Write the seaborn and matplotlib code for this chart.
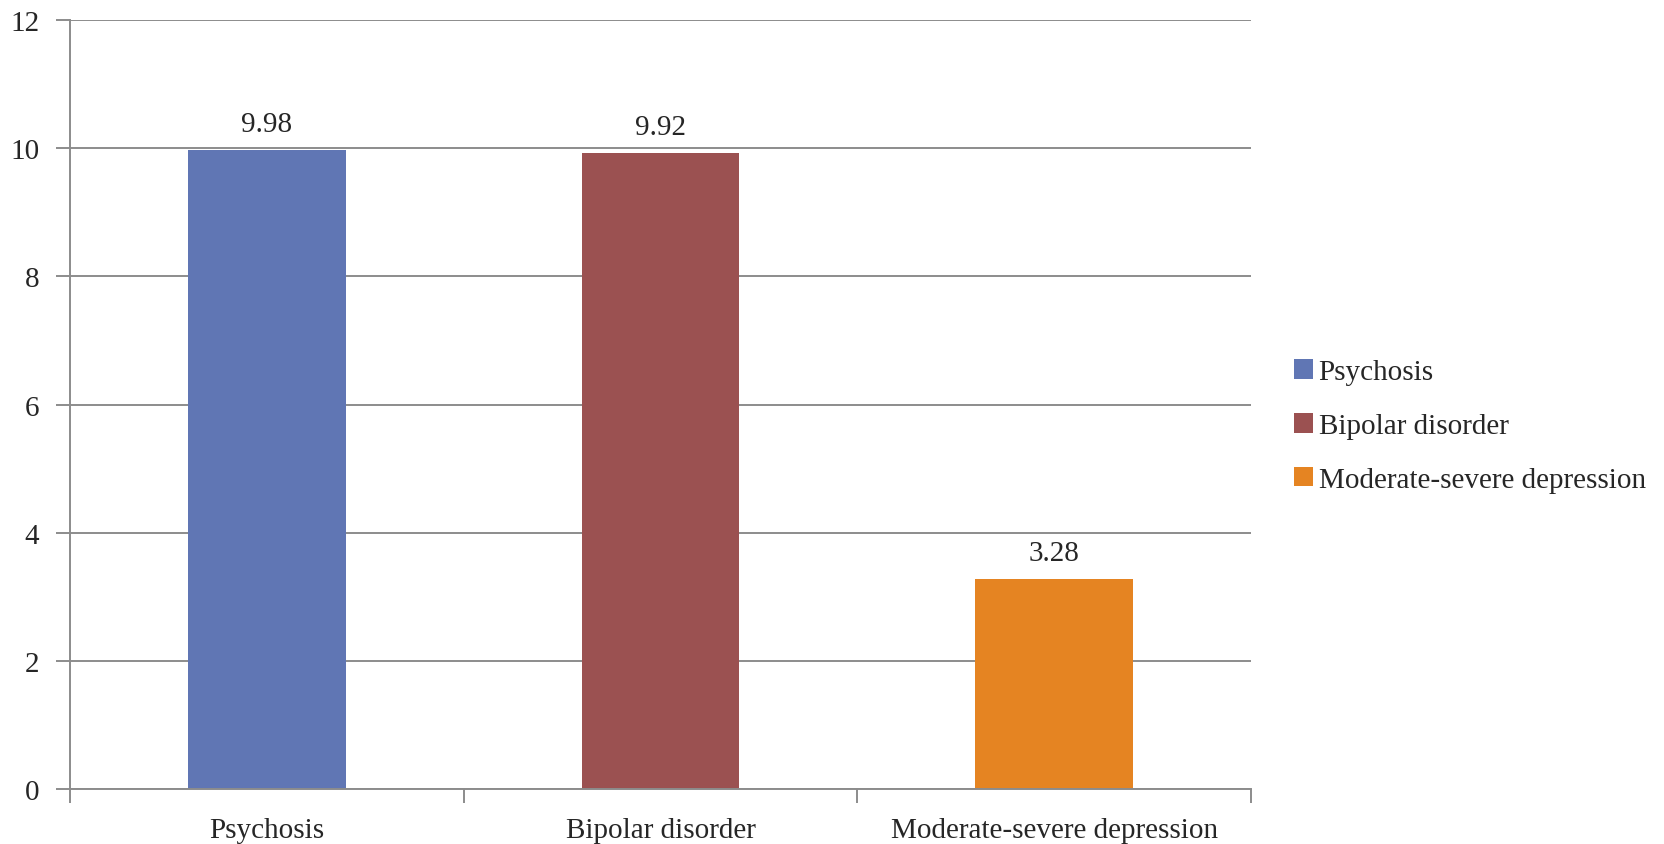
import matplotlib
matplotlib.use("Agg")
import matplotlib.pyplot as plt
import seaborn as sns
import pandas as pd
from matplotlib.ticker import FixedLocator

categories = ["Psychosis", "Bipolar disorder", "Moderate-severe depression"]
values = [9.98, 9.92, 3.28]
value_labels = ["9.98", "9.92", "3.28"]
colors = ["#6076B4", "#9B5151", "#E58422"]
yticks = [0, 2, 4, 6, 8, 10, 12]

sns.set_theme(style="white")
plt.rcParams["font.family"] = ["Liberation Serif", "DejaVu Serif"]

df = pd.DataFrame({"category": categories, "value": values})

fig = plt.figure(figsize=(16.65, 8.45), dpi=100)
ax = fig.add_axes([0.042, 0.065, 0.7094, 0.91])

sns.barplot(data=df, x="category", y="value", hue="category",
            palette=colors, width=0.4, dodge=False, ax=ax, legend=True,
            saturation=1, linewidth=0)

FS = 21
ax.set_ylim(0, 12)
ax.set_xlim(-0.5, 2.5)
ax.set_yticks(yticks)
ax.set_yticklabels([str(t) for t in yticks], fontsize=FS)
ax.yaxis.grid(True, color="#8C8C8C", linewidth=1.4)
ax.set_axisbelow(True)
ax.tick_params(axis="y", length=10, width=1.4, color="#8C8C8C", pad=12, left=True)

ax.set_xticks(range(len(categories)))
ax.set_xticklabels(categories, fontsize=FS)
ax.xaxis.set_minor_locator(FixedLocator([-0.5, 0.5, 1.5, 2.5]))
ax.tick_params(axis="x", which="major", length=0, pad=20)
ax.tick_params(axis="x", which="minor", length=10, width=1.4, color="#8C8C8C", bottom=True)
ax.set_xlabel("")
ax.set_ylabel("")

for s in ["top", "right"]:
    ax.spines[s].set_visible(False)
for s in ["left", "bottom"]:
    ax.spines[s].set_color("#8C8C8C")
    ax.spines[s].set_linewidth(1.4)

for i, (v, lab) in enumerate(zip(values, value_labels)):
    ax.annotate(lab, (i, v), xytext=(0, 13), textcoords="offset pixels",
                ha="center", va="bottom", fontsize=FS)

leg = ax.legend(loc="center left", bbox_to_anchor=(1.014, 0.472), frameon=False,
                fontsize=FS, handlelength=0.65, handleheight=0.65, handletextpad=0.2,
                labelspacing=0.95)

fig.savefig("out.png", dpi=100)
